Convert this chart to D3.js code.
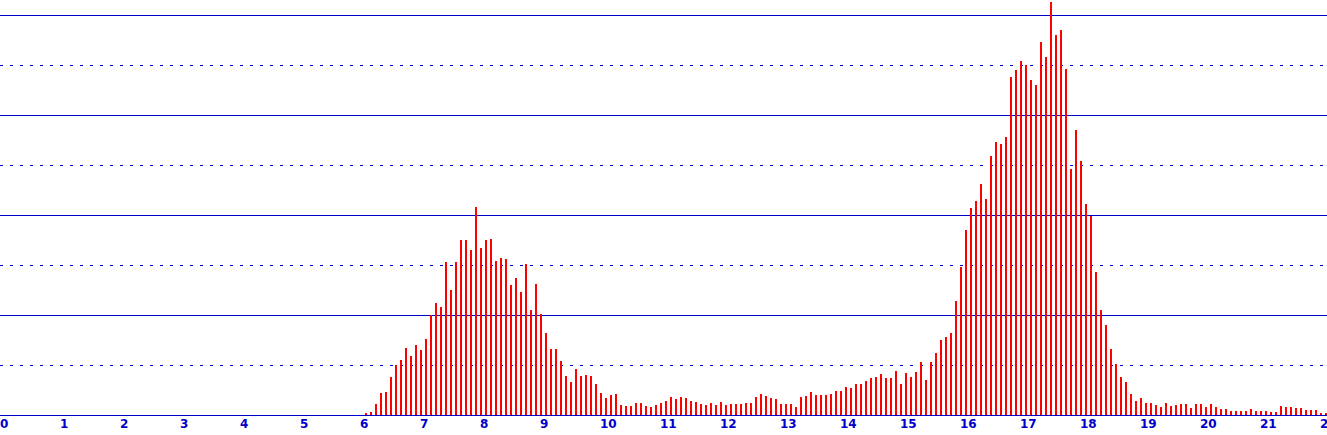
<!DOCTYPE html>
<html>
<head>
<meta charset="utf-8">
<script src="https://cdn.jsdelivr.net/npm/d3@7"></script>
<style>
  html, body { margin: 0; padding: 0; background: #fff; }
  svg { display: block; }
</style>
</head>
<body>
<div id="chart"></div>
<script>
// hour labels along the bottom
const hourTicks = d3.range(0, 23);

// first bar is at 06:00, one bar every 5 minutes
const startHour = 6;
const stepHours = 5 / 60;

// bar heights, 06:00 .. 22:00
const counts = [
  2, 3, 11, 22, 23, 38, 50, 55, 67, 59, 70, 65,            // 06
  76, 100, 112, 108, 153, 125, 153, 175, 175, 165, 208, 167, // 07
  175, 176, 154, 157, 156, 130, 137, 123, 151, 105, 131, 101, // 08
  82, 66, 66, 54, 39, 33, 46, 39, 40, 39, 31, 22,           // 09
  17, 20, 21, 10, 9, 9, 12, 12, 9, 8, 10, 12,               // 10
  14, 18, 16, 18, 17, 14, 13, 11, 10, 12, 10, 13,           // 11
  10, 11, 11, 11, 12, 12, 18, 21, 19, 17, 16, 11,           // 12
  11, 11, 8, 18, 19, 23, 20, 20, 20, 21, 24, 24,            // 13
  28, 27, 31, 31, 34, 37, 38, 41, 37, 37, 44, 31,           // 14
  42, 38, 43, 53, 35, 53, 62, 75, 78, 82, 114, 148,         // 15
  185, 207, 214, 231, 216, 259, 273, 271, 278, 338, 345, 354, // 16
  350, 335, 330, 373, 358, 413, 380, 385, 346, 246, 285, 254, // 17
  211, 199, 143, 105, 90, 66, 51, 38, 33, 21, 14, 17,       // 18
  12, 12, 10, 8, 12, 9, 10, 11, 11, 7, 11, 11,              // 19
  8, 11, 8, 6, 6, 4, 4, 4, 4, 6, 4, 4,                      // 20
  4, 3, 3, 9, 8, 8, 7, 7, 5, 5, 5, 2,                       // 21
  2                                                         // 22
];

// horizontal grid values (solid on hundreds, dotted in between)
const gridValues = [50, 100, 150, 200, 250, 300, 350, 400];

const width = 1327,
  height = 435;

const blue = '#0000cc';

const x = d3.scaleLinear().domain([0, 22]).range([5, 1325]);
const y = d3.scaleLinear().domain([0, 400]).range([415, 15]);

const svg = d3
  .select('#chart')
  .append('svg')
  .attr('width', width)
  .attr('height', height);

// grid lines
svg
  .selectAll('line.grid')
  .data(gridValues)
  .join('line')
  .attr('class', 'grid')
  .attr('x1', 0)
  .attr('x2', width)
  .attr('y1', (d) => y(d) + 0.5)
  .attr('y2', (d) => y(d) + 0.5)
  .attr('stroke', blue)
  .attr('stroke-width', 1)
  .attr('stroke-dasharray', (d) => (d % 100 === 0 ? null : '3,7'))
  .attr('shape-rendering', 'crispEdges');

// baseline
svg
  .append('line')
  .attr('x1', 0)
  .attr('x2', width)
  .attr('y1', y(0) + 0.5)
  .attr('y2', y(0) + 0.5)
  .attr('stroke', blue)
  .attr('stroke-width', 1)
  .attr('shape-rendering', 'crispEdges');

// bars
svg
  .selectAll('rect.bar')
  .data(counts)
  .join('rect')
  .attr('class', 'bar')
  .attr('x', (d, i) => Math.round(x(startHour + i * stepHours)))
  .attr('y', (d) => y(d))
  .attr('width', 2)
  .attr('height', (d) => y(0) - y(d))
  .attr('fill', '#ff0000')
  .attr('shape-rendering', 'crispEdges');

// hour labels, left edge just before the tick
svg
  .selectAll('text.hour')
  .data(hourTicks)
  .join('text')
  .attr('class', 'hour')
  .attr('x', (d) => x(d) - 5)
  .attr('y', 428)
  .attr('fill', blue)
  .style('font-family', 'DejaVu Sans, Verdana, sans-serif')
  .style('font-size', '12px')
  .style('font-weight', 'bold')
  .text((d) => d);
</script>
</body>
</html>
